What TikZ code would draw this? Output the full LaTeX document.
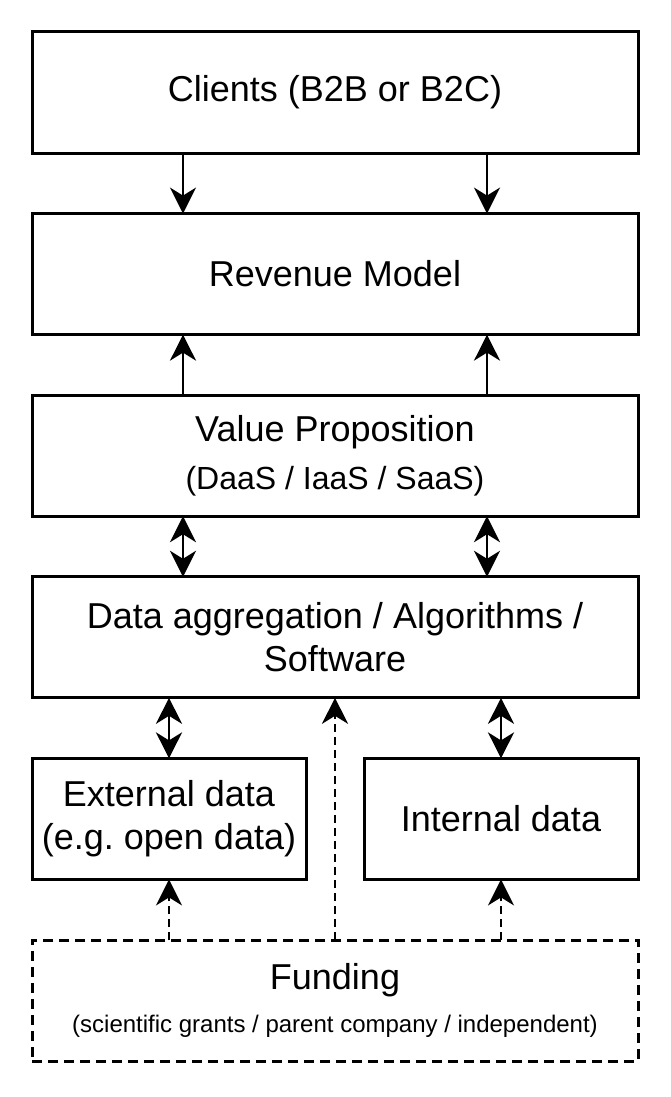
\documentclass[tikz,border=0pt]{standalone}
\usepackage{fontspec}
\setmainfont{Liberation Sans}
\usetikzlibrary{positioning,arrows.meta}
\frenchspacing

\begin{document}
\begin{tikzpicture}[%
    >={Stealth[length=13pt,width=13pt,inset=4pt]}, % Heads like the drawing tool
    node distance=30.3pt,       % Gap between the stacked boxes
    ]
% -------------------------------------------------
% A few box styles
\tikzset{
  base/.style={draw, line width=1.5pt, align=flush center, minimum height=60.5pt,
    inner sep=0pt, outer sep=0pt},
  blk/.style={base, minimum width=303pt, text width=296pt},
  half/.style={base, minimum width=137pt, text width=134pt},
  fund/.style={blk, dash pattern=on 5pt off 3pt},
  big/.style={font=\fontsize{18}{21.6}\selectfont},
  % Connector line styles
  to/.style={->, line width=1.35pt},
  dbl/.style={<->, line width=1.35pt},
  fd/.style={->, line width=1.35pt, dash pattern=on 4pt off 2.5pt},
}
\useasboundingbox (0,0) rectangle (335pt,-548.5pt);
% -------------------------------------------------
% Start by placing the nodes

\node [blk, big, anchor=north west] (cli) at (16pt,-16pt) {Clients (B2B or B2C)};
\node [blk, big, below = of cli] (rev) {Revenue Model};
\node [blk, big, below = of rev] (val) {Value Proposition\\[2pt]{\fontsize{16}{19.2}\selectfont(DaaS / IaaS / SaaS)}};
\node [blk, big, below = of val] (dat) {Data aggregation / Algorithms /\\Software};
\node [half, big, below = of dat.south west, anchor=north west] (ext) {External data\\(e.g. open data)};
\node [half, big, below = of dat.south east, anchor=north east] (int) {Internal data};
\node [fund, big, below = of ext.south west, anchor=north west] (fun) {Funding\\[0pt]{\fontsize{12}{14.4}\selectfont(scientific grants / parent company / independent)}};

\draw[to] ([xshift=-76pt]cli.south) to ([xshift=-76pt]rev.north);		%Clients,Revenue
\draw[to] ([xshift=76pt]cli.south) to ([xshift=76pt]rev.north);
\draw[to] ([xshift=-76pt]val.north) to ([xshift=-76pt]rev.south);		%Value,Revenue
\draw[to] ([xshift=76pt]val.north) to ([xshift=76pt]rev.south);
\draw[dbl] ([xshift=-76pt]val.south) to ([xshift=-76pt]dat.north);		%Value,Data
\draw[dbl] ([xshift=76pt]val.south) to ([xshift=76pt]dat.north);
\draw[dbl] (ext.north) to (ext.north |- dat.south);		%External,Data
\draw[dbl] (int.north) to (int.north |- dat.south);		%Internal,Data
\draw[fd] (ext.south |- fun.north) to (ext.south);		%Funding,External
\draw[fd] (fun.north) to (dat.south);		%Funding,Data
\draw[fd] (int.south |- fun.north) to (int.south);		%Funding,Internal

% -------------------------------------------------
\end{tikzpicture}
\end{document}
